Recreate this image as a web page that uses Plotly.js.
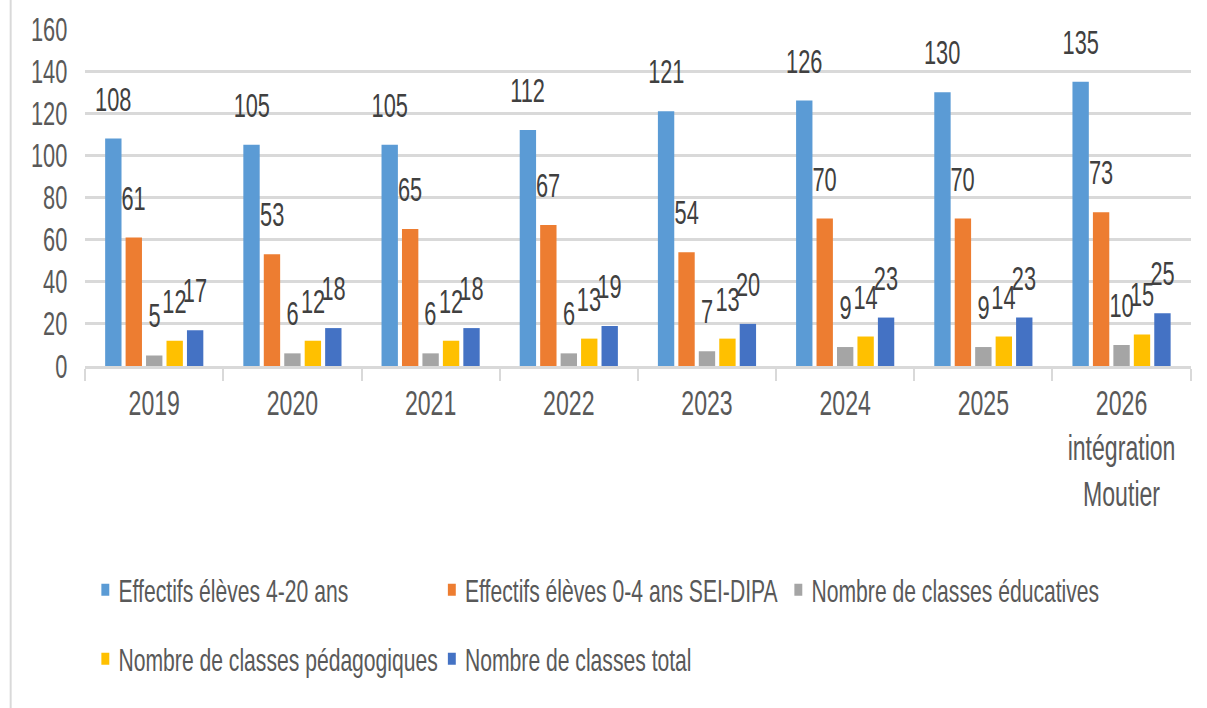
<!DOCTYPE html>
<html>
<head>
<meta charset="utf-8">
<script src="https://cdn.plot.ly/plotly-3.0.1.min.js"></script>
<style>
  html, body { margin: 0; padding: 0; overflow: hidden; background: #fff; }
  #wrap { width: 1207px; height: 708px; overflow: hidden; position: relative; }
  #plot { width: 1829px; height: 708px; transform: scaleX(0.66); transform-origin: 0 0; position: absolute; left: 0; top: 0; }
</style>
</head>
<body>
<div id="wrap"><div id="plot"></div></div>
<script>
const categories = ['2019', '2020', '2021', '2022', '2023', '2024', '2025', '2026<br>intégration<br>Moutier'];
const eleves420 = [108, 105, 105, 112, 121, 126, 130, 135];
const eleves04 = [61, 53, 65, 67, 54, 70, 70, 73];
const classesEducatives = [5, 6, 6, 6, 7, 9, 9, 10];
const classesPedagogiques = [12, 12, 12, 13, 13, 14, 14, 15];
const classesTotal = [17, 18, 18, 19, 20, 23, 23, 25];
const seriesNames = [
  'Effectifs élèves 4-20 ans',
  'Effectifs élèves 0-4 ans SEI-DIPA',
  'Nombre de classes éducatives',
  'Nombre de classes pédagogiques',
  'Nombre de classes total'
];
const seriesValues = [eleves420, eleves04, classesEducatives, classesPedagogiques, classesTotal];
const colors = ['#5B9BD5', '#ED7D31', '#A5A5A5', '#FFC000', '#4472C4'];
const legendOf = ['legend', 'legend', 'legend', 'legend2', 'legend2'];

const FONT = 'Liberation Sans, Arial, sans-serif';
const BARGAP = 0.26;
const NS = seriesValues.length;

const traces = seriesValues.map((vals, i) => ({
  type: 'bar',
  name: seriesNames[i],
  x: categories,
  y: vals,
  marker: { color: colors[i] },
  legend: legendOf[i],
  hoverinfo: 'x+y+name'
}));

// data labels, placed above each bar through the category/value axes
const slot = (1 - BARGAP) / NS;
const annotations = [];
seriesValues.forEach((vals, i) => {
  const off = (i - (NS - 1) / 2) * slot;
  vals.forEach((v, ci) => {
    annotations.push({
      xref: 'x', yref: 'y',
      x: ci + off, y: v,
      text: String(v),
      showarrow: false,
      xanchor: 'center', yanchor: 'bottom',
      yshift: 19,
      font: { family: FONT, size: 33, color: '#404040' }
    });
  });
});

const W = 1829, H = 708;
const L = 128.8, R = 24.5, T = 29, B = 342;
const pw = W - L - R;
function px2paperX(imgX) { return (imgX / 0.66 - L) / pw; }
function px2paperY(imgY) { return ((H - B) - imgY) / (H - T - B); }

const legendCommon = {
  orientation: 'h',
  xanchor: 'left',
  yanchor: 'middle',
  entrywidth: 480,
  entrywidthmode: 'pixels',
  font: { family: FONT, size: 32, color: '#595959' },
  bgcolor: 'rgba(0,0,0,0)'
};

const layout = {
  width: W,
  height: H,
  margin: { l: L, r: R, t: T, b: B, autoexpand: false },
  paper_bgcolor: '#ffffff',
  plot_bgcolor: '#ffffff',
  barmode: 'group',
  bargap: BARGAP,
  bargroupgap: 0.2,
  font: { family: FONT, color: '#595959' },
  xaxis: {
    type: 'category',
    showline: true,
    linecolor: '#d9d9d9',
    linewidth: 3,
    ticks: 'outside',
    tickson: 'boundaries',
    ticklen: 12,
    tickwidth: 3,
    tickcolor: '#d9d9d9',
    showgrid: false,
    ticklabelstandoff: 4,
    tickfont: { family: FONT, size: 35, color: '#595959' },
    automargin: false
  },
  yaxis: {
    range: [0, 160],
    dtick: 20,
    showgrid: true,
    gridcolor: '#d9d9d9',
    gridwidth: 2.5,
    zeroline: false,
    showline: false,
    ticks: '',
    ticklabelstandoff: 26,
    tickfont: { family: FONT, size: 33, color: '#595959' },
    automargin: false
  },
  legend: Object.assign({}, legendCommon, { x: px2paperX(92), y: px2paperY(590) }),
  legend2: Object.assign({}, legendCommon, { x: px2paperX(92), y: px2paperY(659) }),
  annotations: annotations,
  shapes: [{
    type: 'line',
    xref: 'paper', yref: 'paper',
    x0: px2paperX(10.5), x1: px2paperX(10.5),
    y0: px2paperY(0), y1: px2paperY(708),
    line: { color: '#d9d9d9', width: 3 }
  }],
  showlegend: true
};

Plotly.newPlot('plot', traces, layout, { displayModeBar: false, responsive: false });
</script>
</body>
</html>
